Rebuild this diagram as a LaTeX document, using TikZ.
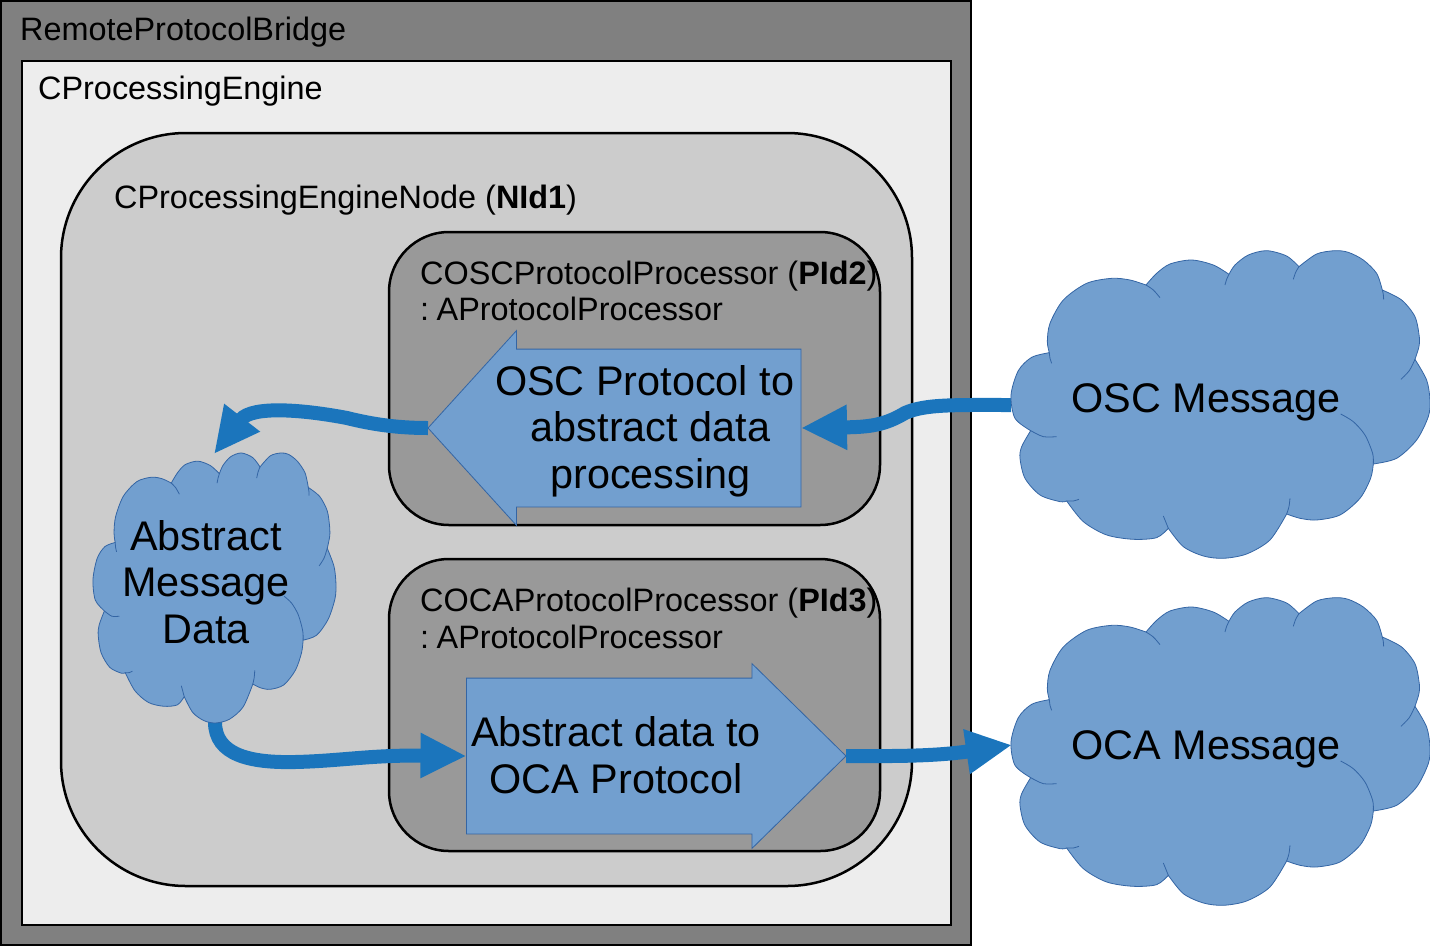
\documentclass[tikz,border=0pt]{standalone}
\usepackage{fontspec}
\setmainfont{Liberation Sans}
\usetikzlibrary{arrows.meta,shapes.arrows}
\definecolor{blockblue}{HTML}{729FCF}
\definecolor{blockline}{HTML}{3465A4}
\definecolor{flowblue}{HTML}{1B75BC}
\newcommand\cloudlines{%
  \path[cloudstyle] plot[smooth] coordinates {(148,338)(95,352)(55,392)(33,465)(45,535)(92,572)}
   -- plot[smooth] coordinates {(92,572)(65,620)(60,655)(75,715)(120,765)(180,785)(200,783)}
   -- plot[smooth] coordinates {(200,783)(250,845)(320,885)(400,898)(470,893)(505,865)}
   -- plot[smooth] coordinates {(505,865)(550,920)(610,948)(670,955)(740,942)(810,900)(860,822)}
   -- plot[smooth] coordinates {(860,822)(900,835)(950,840)(1020,825)(1080,775)(1112,715)(1120,672)}
   -- plot[smooth] coordinates {(1120,672)(1190,655)(1250,600)(1285,530)(1290,480)(1280,420)(1245,358)}
   -- plot[smooth] coordinates {(1245,358)(1257,320)(1258,290)(1245,230)(1205,180)(1147,150)}
   -- plot[smooth] coordinates {(1147,150)(1130,100)(1090,60)(1045,37)(1005,32)(950,42)(897,80)}
   -- plot[smooth] coordinates {(897,80)(860,48)(800,32)(745,45)(705,75)(687,103)}
   -- plot[smooth] coordinates {(687,103)(640,75)(575,60)(510,72)(470,100)(438,135)}
   -- plot[smooth] coordinates {(438,135)(390,120)(335,115)(260,130)(190,180)(150,250)(142,305)(148,338)}
   -- cycle;
  \draw[cloudtick] plot[smooth] coordinates {(148,338)(150,355)(155,370)};
  \draw[cloudtick] plot[smooth] coordinates {(92,572)(130,590)(170,590)};
  \draw[cloudtick] plot[smooth] coordinates {(200,783)(220,783)(237,778)};
  \draw[cloudtick] plot[smooth] coordinates {(505,865)(497,845)(490,828)};
  \draw[cloudtick] plot[smooth] coordinates {(860,822)(867,800)(870,775)};
  \draw[cloudtick] plot[smooth] coordinates {(1120,672)(1118,640)(1095,585)(1060,545)(1022,522)};
  \draw[cloudtick] plot[smooth] coordinates {(1245,358)(1228,392)(1203,418)};
  \draw[cloudtick] plot[smooth] coordinates {(1147,150)(1150,163)(1151,178)};
  \draw[cloudtick] plot[smooth] coordinates {(897,80)(887,97)(880,118)};
  \draw[cloudtick] plot[smooth] coordinates {(687,103)(680,118)(675,135)};
  \draw[cloudtick] plot[smooth] coordinates {(438,135)(460,150)(480,173)};
}
\tikzset{
  cloudstyle/.style={fill=blockblue,draw=blockline,line width=0.8pt,line join=round},
  cloudtick/.style={draw=blockline,line width=0.8pt},
  smalltext/.style={font=\fontsize{32.4}{36.6}\selectfont,inner sep=0pt,anchor=base west,text=black},
  bigtext/.style={font=\fontsize{41.4}{46.7}\selectfont,inner sep=0pt,align=center,text=black},
  outerbox/.style={fill=#1,draw=black,line width=2.5pt},
  blockarrow/.style={single arrow,fill=blockblue,draw=blockline,line width=0.8pt,inner sep=0pt,outer sep=0pt},
  flow/.style={draw=flowblue,line width=14pt,-{Triangle[length=46pt,width=42pt]}},
}
\begin{document}
\begin{tikzpicture}[x=1pt,y=-1pt]
\useasboundingbox (0,0) rectangle (1430,946);
\draw[outerbox=black!50] (1,1) rectangle (971,945);
\draw[outerbox=black!7] (22,61) rectangle (951,925);
\draw[outerbox=black!20,rounded corners=125pt] (61,133) rectangle (912,886);
\draw[outerbox=black!40,rounded corners=60pt] (389,232) rectangle (880,525);
\draw[outerbox=black!40,rounded corners=60pt] (389,559) rectangle (880,851);

\node[blockarrow,shape border rotate=180,anchor=tip,minimum height=373pt,minimum width=194pt,single arrow head extend=18.5pt,single arrow tip angle=95.5] (oscblock) at (428,428) {\rule{0pt}{157pt}};
\node[blockarrow,anchor=tip,minimum height=379.5pt,minimum width=184pt,single arrow head extend=14.5pt,single arrow tip angle=89] (ocablock) at (846,756) {\rule{0pt}{155pt}};

\coordinate (oscedge) at (1011,405);
\coordinate (ocaedge) at (1012,745);
\coordinate (absout) at (215,722);
\coordinate (absin) at (214,454);

\draw[flow] (oscedge) .. controls (955,405) and (925,404) .. (905,413) .. controls (885,425) and (870,427) .. (oscblock.tail);
\draw[flow] (oscblock.tip) .. controls (400,428) and (375,425) .. (347,418) .. controls (305,410) and (252,405) .. (absin);
\draw[flow] (absout) .. controls (215,755) and (250,763) .. (295,762) .. controls (340,761) and (370,755) .. (ocablock.tail);
\draw[flow] (ocablock.tip) .. controls (880,756) and (930,757) .. (ocaedge);

\begin{scope}[shift={(1000,240)},x=0.3333pt,y=-0.3333pt]\cloudlines\end{scope}
\begin{scope}[shift={(1000,587)},x=0.3333pt,y=-0.3333pt]\cloudlines\end{scope}
\begin{scope}[shift={(86.6,443.6)},x=0.1933pt,y=-0.2925pt]\cloudlines\end{scope}

\node[smalltext] (tbridge) at (20,40) {RemoteProtocolBridge};
\node[smalltext] (tengine) at (38,99.5) {CProcessingEngine};
\node[smalltext] (tnode) at (114,208.5) {CProcessingEngineNode (\textbf{NId1})};
\node[smalltext] (tosca) at (420,284) {COSCProtocolProcessor (\textbf{PId2})};
\node[smalltext] (toscb) at (420,320) {:\hspace{7.5pt}AProtocolProcessor};
\node[smalltext] (tocaa) at (420,611) {COCAProtocolProcessor (\textbf{PId3})};
\node[smalltext] (tocab) at (420,648) {:\hspace{7.5pt}AProtocolProcessor};
\node[bigtext] (tosc) at (650.5,431) {OSC Protocol to\hspace*{11.6pt}\\abstract data\\processing};
\node[bigtext] (toca) at (616,755) {Abstract data to\\OCA Protocol};
\node[bigtext] (tabs) at (206,582) {Abstract\\Message\\Data};
\node[bigtext] (toscm) at (1206,402) {OSC Message};
\node[bigtext] (tocam) at (1206,749) {OCA Message};
\end{tikzpicture}
\end{document}
